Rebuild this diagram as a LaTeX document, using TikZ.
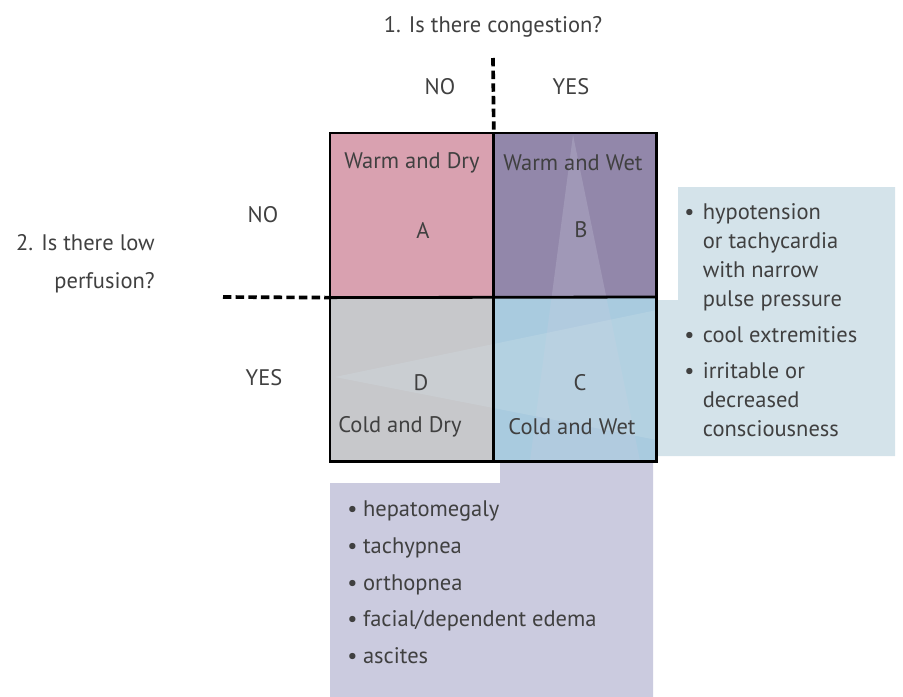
\documentclass[tikz,border=0pt]{standalone}
\usepackage{fontspec}
\setmainfont{PT Sans}
\usetikzlibrary{positioning}
\definecolor{warmdry}{HTML}{D9A1B0}
\definecolor{warmwet}{HTML}{9287AA}
\definecolor{coldwet}{HTML}{A9CBDF}
\definecolor{colddry}{HTML}{C7C8CB}
\definecolor{lowflow}{HTML}{D4E3EA}
\definecolor{overload}{HTML}{CBCBDF}
\definecolor{ink}{HTML}{404040}
\tikzset{
  txt/.style={inner sep=0, text=ink, font=\fontsize{16}{19}\selectfont},
  cell/.style={minimum width=4.08cm, minimum height=4.1cm, inner sep=0, anchor=north west, draw=none},
  axis/.style={line width=2.6pt, dash pattern=on 6pt off 3pt},
  frame/.style={line width=2pt, draw=black},
  pointer/.style={opacity=0.25}
}
\begin{document}
\begin{tikzpicture}[x=0.025cm, y=-0.025cm]
  \useasboundingbox (0,0) rectangle (903,697);
  % callout boxes
  \fill[lowflow] (657,300) -- (678,300) -- (678,187) -- (895,187) -- (895,456) -- (657,456) -- cycle;
  \fill[overload] (330,483) -- (500,483) -- (500,462) -- (653,462) -- (653,697) -- (330,697) -- cycle;
  % quadrants
  \node[cell, fill=warmdry] (cellA) at (330,133) {};
  \node[cell, fill=warmwet] (cellB) at (493,133) {};
  \node[cell, fill=colddry] (cellD) at (330,297) {};
  \node[cell, fill=coldwet] (cellC) at (493,297) {};
  % pointers of the callouts
  \fill[overload, pointer] (573,135) -- (530,461) -- (640,461) -- cycle;
  \fill[lowflow, pointer] (335,377) -- (657,310) -- (657,440) -- cycle;
  % grid
  \draw[frame] (cellA.north west) rectangle (cellC.south east);
  \draw[frame] (cellA.north east) -- (cellD.south east);
  \draw[frame] (cellA.south west) -- (cellC.north east);
  \coordinate (qtop) at (493,58);
  \coordinate (qleft) at (223,297);
  \draw[axis] (qtop) -- (cellA.north east);
  \draw[axis] (qleft) -- (cellA.south west);
  % questions and answers
  \node[txt] (q1) at (493,27) {1. Is there congestion?};
  \node[txt] (no1) at (440,87) {NO};
  \node[txt] (yes1) at (571,87) {YES};
  \node[txt, align=right, anchor=east, font=\fontsize{16}{27}\selectfont] (q2) at (155,264) {2. Is there low\\perfusion?};
  \node[txt] (no2) at (263,215) {NO};
  \node[txt] (yes2) at (264,378) {YES};
  % quadrant texts
  \node[txt] (tA) at (412,163) {Warm and Dry};
  \node[txt] (tB) at (573,163) {Warm and Wet};
  \node[txt] (tD) at (400,427) {Cold and Dry};
  \node[txt] (tC) at (572,427) {Cold and Wet};
  \node[txt] (lA) at (423,230) {A};
  \node[txt] (lB) at (581,230) {B};
  \node[txt] (lD) at (421,383) {D};
  \node[txt] (lC) at (580,383) {C};
  % signs
  \node[txt, anchor=north west, font=\fontsize{16}{20.6}\selectfont] (lowlist) at (684,199) {%
    \begin{tabular}{@{}l@{\hspace{6pt}}l@{}}
      \textbullet & hypotension\\
      & or tachycardia\\
      & with narrow\\
      & pulse pressure\\[5pt]
      \textbullet & cool extremities\\[5pt]
      \textbullet & irritable or\\
      & decreased\\
      & consciousness
    \end{tabular}};
  \node[txt, anchor=north west, font=\fontsize{16}{26}\selectfont] (fluidlist) at (347,491) {%
    \begin{tabular}{@{}l@{\hspace{4pt}}l@{}}
      \textbullet & hepatomegaly\\
      \textbullet & tachypnea\\
      \textbullet & orthopnea\\
      \textbullet & facial/dependent edema\\
      \textbullet & ascites
    \end{tabular}};
\end{tikzpicture}
\end{document}
